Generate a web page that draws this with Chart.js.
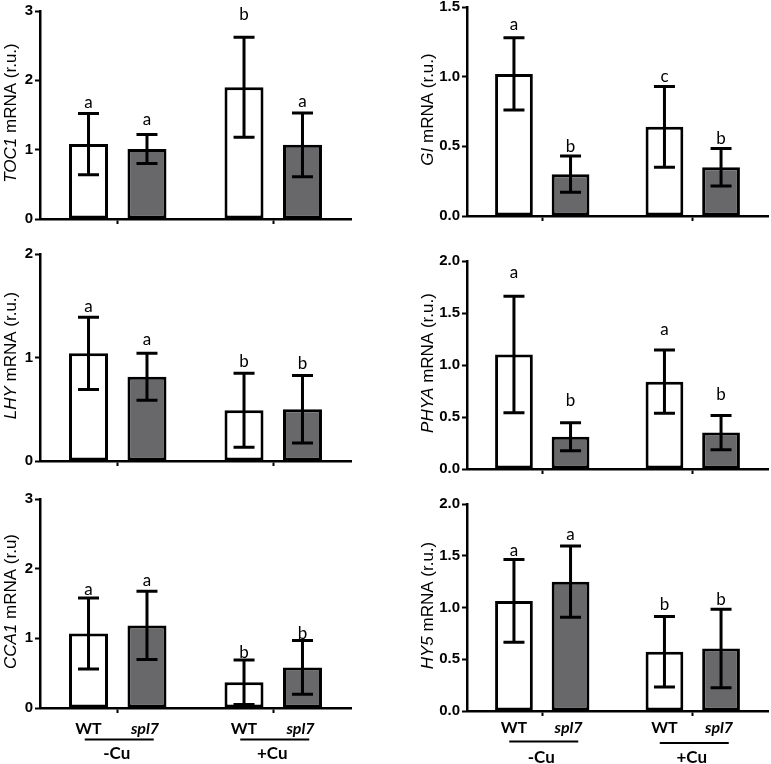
<!DOCTYPE html>
<html>
<head>
<meta charset="utf-8">
<script src="https://cdn.jsdelivr.net/npm/chart.js@4.4.1/dist/chart.umd.min.js"></script>
<style>
    body { margin: 0; background: #fff; }
    #wrap { position: relative; width: 771px; height: 764px; }
    #wrap canvas { position: absolute; }
</style>
</head>
<body>
<div id="wrap"></div>
<script>
// Категории и генотипы
const groups = ['-Cu', '+Cu'];
const genotypes = ['WT', 'spl7'];

// Значения (среднее и отклонение), по группам -Cu, +Cu
const toc1Wt = [1.08, 1.90];
const toc1Spl7 = [1.01, 1.07];
const toc1WtErr = [0.44, 0.72];
const toc1Spl7Err = [0.21, 0.46];
const toc1WtSig = ['a', 'b'];
const toc1Spl7Sig = ['a', 'a'];

const giWt = [1.02, 0.64];
const giSpl7 = [0.30, 0.35];
const giWtErr = [0.26, 0.29];
const giSpl7Err = [0.13, 0.135];
const giWtSig = ['a', 'c'];
const giSpl7Sig = ['b', 'b'];

const lhyWt = [1.04, 0.49];
const lhySpl7 = [0.815, 0.50];
const lhyWtErr = [0.35, 0.357];
const lhySpl7Err = [0.227, 0.325];
const lhyWtSig = ['a', 'b'];
const lhySpl7Sig = ['a', 'b'];

const phyaWt = [1.10, 0.84];
const phyaSpl7 = [0.31, 0.35];
const phyaWtErr = [0.56, 0.305];
const phyaSpl7Err = [0.135, 0.165];
const phyaWtSig = ['a', 'a'];
const phyaSpl7Sig = ['b', 'b'];

const cca1Wt = [1.07, 0.37];
const cca1Spl7 = [1.185, 0.583];
const cca1WtErr = [0.51, 0.32];
const cca1Spl7Err = [0.49, 0.385];
const cca1WtSig = ['a', 'b'];
const cca1Spl7Sig = ['a', 'b'];

const hy5Wt = [1.064, 0.572];
const hy5Spl7 = [1.25, 0.604];
const hy5WtErr = [0.40, 0.34];
const hy5Spl7Err = [0.345, 0.38];
const hy5WtSig = ['a', 'b'];
const hy5Spl7Sig = ['a', 'b'];

const GRAY = '#68686b';
const SANS = '"Liberation Sans", Arial, sans-serif';
const LABEL_FONT = 'Lato, "Open Sans", sans-serif';

// Панели: данные + расположение на странице
const panels = [
    {gene: 'TOC1', unit: ' mRNA (r.u.)', wt: toc1Wt, spl7: toc1Spl7, wtErr: toc1WtErr, spl7Err: toc1Spl7Err,
        wtSig: toc1WtSig, spl7Sig: toc1Spl7Sig, max: 3, step: 1, dec: 0,
        box: {x: 0, y: 0, w: 380, h: 240}, area: {left: 40, right: 351, top: 11, bottom: 219},
        titleX: 11, gaps: [[11, 23], [15, 11]]},
    {gene: 'GI', unit: ' mRNA (r.u.)', wt: giWt, spl7: giSpl7, wtErr: giWtErr, spl7Err: giSpl7Err,
        wtSig: giWtSig, spl7Sig: giSpl7Sig, max: 1.5, step: 0.5, dec: 1,
        box: {x: 380, y: 0, w: 391, h: 240}, area: {left: 467, right: 768, top: 7, bottom: 216},
        titleX: 428, gaps: [[13, 10], [10, 10]]},
    {gene: 'LHY', unit: ' mRNA (r.u.)', wt: lhyWt, spl7: lhySpl7, wtErr: lhyWtErr, spl7Err: lhySpl7Err,
        wtSig: lhyWtSig, spl7Sig: lhySpl7Sig, max: 2, step: 1, dec: 0,
        box: {x: 0, y: 240, w: 380, h: 250}, area: {left: 40, right: 351, top: 254, bottom: 461},
        titleX: 11, gaps: [[11, 12], [14, 12]]},
    {gene: 'PHYA', unit: ' mRNA (r.u.)', wt: phyaWt, spl7: phyaSpl7, wtErr: phyaWtErr, spl7Err: phyaSpl7Err,
        wtSig: phyaWtSig, spl7Sig: phyaSpl7Sig, max: 2, step: 0.5, dec: 1,
        box: {x: 380, y: 240, w: 391, h: 250}, area: {left: 467, right: 768, top: 261, bottom: 469},
        titleX: 428, gaps: [[24, 20], [22, 21]]},
    {gene: 'CCA1', unit: ' mRNA (r.u)', wt: cca1Wt, spl7: cca1Spl7, wtErr: cca1WtErr, spl7Err: cca1Spl7Err,
        wtSig: cca1WtSig, spl7Sig: cca1Spl7Sig, max: 3, step: 1, dec: 0,
        box: {x: 0, y: 490, w: 380, h: 274}, area: {left: 40, right: 351, top: 499, bottom: 708},
        titleX: 11, gaps: [[8, 7], [11, 7]],
        bottomText: {labelDy: 20.5, lineDy: [31.5, 31.5], cuDy: 46}},
    {gene: 'HY5', unit: ' mRNA (r.u.)', wt: hy5Wt, spl7: hy5Spl7, wtErr: hy5WtErr, spl7Err: hy5Spl7Err,
        wtSig: hy5WtSig, spl7Sig: hy5Spl7Sig, max: 2, step: 0.5, dec: 1,
        box: {x: 380, y: 490, w: 391, h: 274}, area: {left: 467, right: 768, top: 504, bottom: 711},
        titleX: 428, gaps: [[9, 12], [11, 10]],
        bottomText: {labelDy: 17, lineDy: [30.5, 32], cuDy: 47}},
];

// Планки погрешностей, буквы, подпись оси и подписи групп
const decorPlugin = {
    id: 'decor',
    afterDatasetsDraw(chart, args, p) {
        const ctx = chart.ctx;
        const yScale = chart.scales.y;
        const xScale = chart.scales.x;
        const means = [p.wt, p.spl7];
        const errs = [p.wtErr, p.spl7Err];
        const sigs = [p.wtSig, p.spl7Sig];

        ctx.save();
        ctx.strokeStyle = '#000';
        ctx.fillStyle = '#000';
        ctx.lineWidth = 3;
        means.forEach((vals, d) => {
            const meta = chart.getDatasetMeta(d);
            vals.forEach((v, i) => {
                const x = meta.data[i].x;
                const yTop = yScale.getPixelForValue(v + errs[d][i]);
                const yBot = yScale.getPixelForValue(v - errs[d][i]);
                ctx.beginPath();
                ctx.moveTo(x, yTop);
                ctx.lineTo(x, yBot);
                ctx.moveTo(x - 10.5, yTop);
                ctx.lineTo(x + 10.5, yTop);
                ctx.moveTo(x - 10.5, yBot);
                ctx.lineTo(x + 10.5, yBot);
                ctx.stroke();

                ctx.font = '17px ' + LABEL_FONT;
                ctx.textAlign = 'center';
                ctx.textBaseline = 'middle';
                ctx.fillText(sigs[d][i], x, yTop - p.gaps[d][i]);
            });
        });

        // Подпись оси Y: имя гена курсивом
        const cy = (chart.chartArea.top + chart.chartArea.bottom) / 2 - 2;
        ctx.translate(p.titleX - p.box.x, cy);
        ctx.rotate(-Math.PI / 2);
        const italicFont = 'italic 17px ' + SANS;
        const normalFont = '17px ' + SANS;
        ctx.font = italicFont;
        const w1 = ctx.measureText(p.gene).width;
        ctx.font = normalFont;
        const w2 = ctx.measureText(p.unit).width;
        ctx.textAlign = 'left';
        ctx.textBaseline = 'middle';
        ctx.font = italicFont;
        ctx.fillText(p.gene, -(w1 + w2) / 2, 0);
        ctx.font = normalFont;
        ctx.fillText(p.unit, -(w1 + w2) / 2 + w1, 0);
        ctx.setTransform(1, 0, 0, 1, 0, 0);

        if (p.bottomText) {
            const bt = p.bottomText;
            const base = chart.chartArea.bottom;
            ctx.textAlign = 'center';
            ctx.textBaseline = 'middle';
            groups.forEach((g, i) => {
                const cx = xScale.getPixelForValue(i);
                genotypes.forEach((gt, d) => {
                    const bx = chart.getDatasetMeta(d).data[i].x;
                    ctx.font = (d === 1 ? 'italic ' : '') + 'bold 16px ' + LABEL_FONT;
                    ctx.fillText(gt, d === 1 ? bx - 2 : bx, base + bt.labelDy);
                });
                ctx.lineWidth = 2;
                ctx.beginPath();
                ctx.moveTo(cx - 33, base + bt.lineDy[i]);
                ctx.lineTo(cx + 36, base + bt.lineDy[i]);
                ctx.stroke();
                ctx.font = 'bold 17px ' + LABEL_FONT;
                ctx.fillText(g, cx - 1, base + bt.cuDy);
            });
        }
        ctx.restore();
    }
};

function makePanel(p) {
    const canvas = document.createElement('canvas');
    canvas.width = p.box.w;
    canvas.height = p.box.h;
    canvas.style.left = p.box.x + 'px';
    canvas.style.top = p.box.y + 'px';
    document.getElementById('wrap').appendChild(canvas);

    const leftRel = p.area.left - p.box.x;
    const rightRel = p.area.right - p.box.x;
    const topRel = p.area.top - p.box.y;
    const bottomRel = p.area.bottom - p.box.y;

    const axisLine = {display: true, color: '#000', width: 2.5};
    const noPad = (scale) => {
        scale.paddingTop = 0;
        scale.paddingBottom = 0;
        scale.paddingLeft = 0;
        scale.paddingRight = 0;
    };

    return new Chart(canvas.getContext('2d'), {
        type: 'bar',
        data: {
            labels: groups,
            datasets: [
                {label: genotypes[0], data: p.wt, backgroundColor: '#fff'},
                {label: genotypes[1], data: p.spl7, backgroundColor: GRAY}
            ]
        },
        options: {
            responsive: false,
            animation: false,
            devicePixelRatio: 1,
            layout: {padding: {left: 0, top: topRel, right: p.box.w - rightRel, bottom: 0}},
            datasets: {
                bar: {
                    borderColor: '#000',
                    borderWidth: 3,
                    borderSkipped: false,
                    barPercentage: 0.667,
                    categoryPercentage: 0.752
                }
            },
            scales: {
                x: {
                    type: 'category',
                    offset: true,
                    border: axisLine,
                    grid: {offset: false, drawOnChartArea: false, drawTicks: true, tickLength: 5,
                        tickColor: '#000', tickWidth: 2},
                    ticks: {display: false},
                    afterFit: (scale) => {
                        scale.height = p.box.h - bottomRel;
                        noPad(scale);
                    }
                },
                y: {
                    min: 0,
                    max: p.max,
                    border: axisLine,
                    grid: {drawOnChartArea: false, drawTicks: true, tickLength: 5,
                        tickColor: '#000', tickWidth: 2},
                    ticks: {
                        stepSize: p.step,
                        color: '#000',
                        padding: 2,
                        font: {family: SANS, size: 15, weight: 'bold'},
                        callback: (v) => Number(v).toFixed(p.dec)
                    },
                    afterFit: (scale) => {
                        scale.width = leftRel;
                        noPad(scale);
                    }
                }
            },
            plugins: {
                legend: {display: false},
                tooltip: {enabled: false},
                decor: p
            }
        },
        plugins: [decorPlugin]
    });
}

panels.forEach(makePanel);
</script>
</body>
</html>
